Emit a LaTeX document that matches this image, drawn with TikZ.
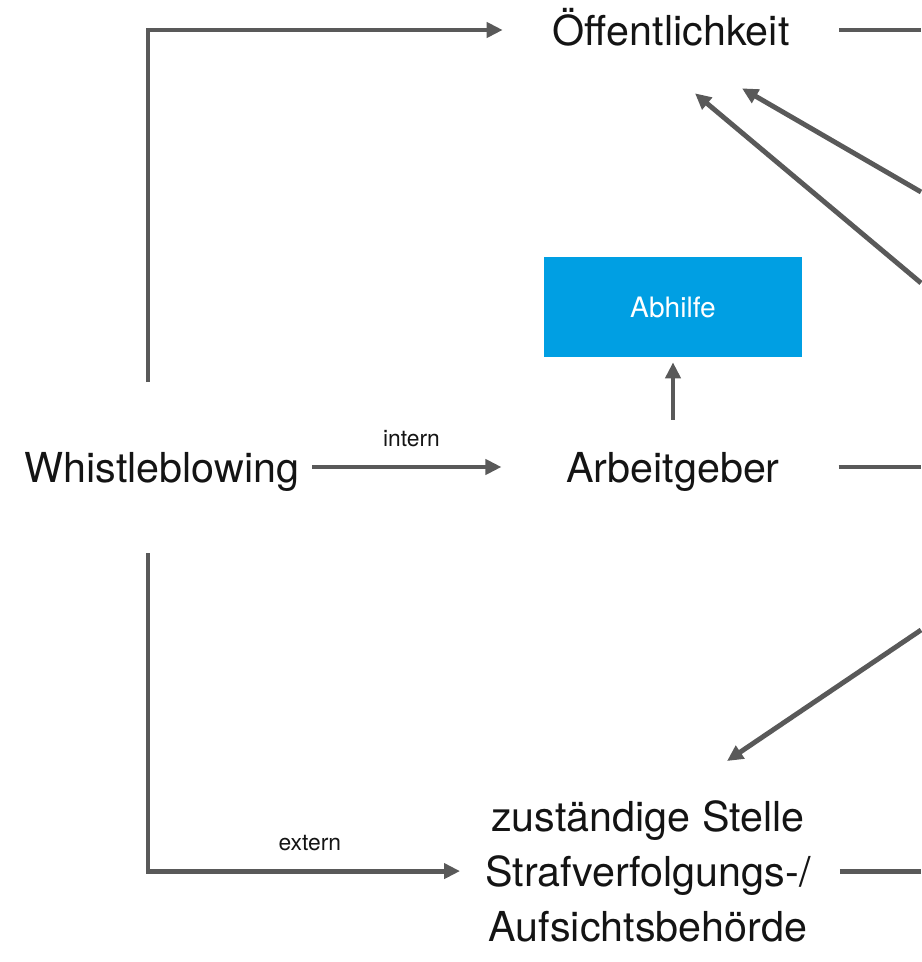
\documentclass[tikz,border=0pt]{standalone}
\usepackage{fontspec}
\setmainfont{TeX Gyre Heros}
\usetikzlibrary{arrows.meta, positioning}
\definecolor{LineGray}{RGB}{89,89,89}
\definecolor{BoxBlue}{RGB}{0,159,227}
\definecolor{InkText}{RGB}{20,20,20}

\begin{document}
\begin{tikzpicture}[
    x=0.02cm, y=-0.02cm,
    lbl/.style={
        inner sep=0pt,
        text=InkText,
        font=\fontsize{23.5}{28}\selectfont,
        text height=0.76cm,
        text depth=0.12cm
    },
    multi/.style={
        inner sep=0pt,
        text=InkText,
        align=center,
        font=\fontsize{23.5}{31.3}\selectfont
    },
    tag/.style={inner sep=0pt, text=InkText, font=\fontsize{13}{15}\selectfont},
    fixbox/.style={
        fill=BoxBlue,
        text=white,
        minimum width=5.16cm,
        minimum height=2cm,
        font=\fontsize{16}{19}\selectfont
    },
    arr/.style={-{Triangle[length=0.32cm, width=0.3cm]}, line width=2.8pt, color=LineGray},
    ln/.style={line width=2.8pt, color=LineGray}
]
\useasboundingbox (0,0) rectangle (921,962);

% NODES
\node[lbl] (oef) at (671,30) {Öffentlichkeit};
\node[lbl] (wb) at (162,467) {Whistleblowing};
\node[lbl] (arb) at (673,467) {Arbeitgeber};
\node[fixbox] (abh) at (673,307) {Abhilfe};
\node[multi, anchor=north] (beh) at (648,800)
{zuständige Stelle\\Strafverfolgungs-/\\Aufsichtsbehörde};

% FREE ENDS
\coordinate (wbtop) at (148,382);
\coordinate (wbbot) at (148,553);
\coordinate (edgeA) at (921,30);
\coordinate (edgeB) at (921,467);
\coordinate (edgeC) at (921,192);
\coordinate (edgeD) at (921,283);
\coordinate (edgeE) at (921,630);
\coordinate (edgeF) at (921,868);

% LEFT SIDE
\draw[arr, shorten >=0.99cm] (wbtop) |- (oef.west);
\draw[arr, shorten <=0.25cm, shorten >=1.29cm] (wb.east) -- (arb.west)
node[tag, pos=0.42, above=0.36cm] {intern};
\draw[arr, shorten >=0.5cm] (wbbot) |- (beh.west)
node[tag, pos=0.74, above=0.36cm] {extern};
\draw[arr, shorten <=0.5cm, shorten >=0.1cm] (arb.north) -- (abh.south);

% RIGHT SIDE
\draw[ln, shorten <=0.99cm] (oef.east) -- (oef.east -| edgeA);
\draw[ln, shorten <=1.17cm] (arb.east) -- (edgeB);
\draw[ln, shorten <=0.58cm] (beh.east) -- (beh.east -| edgeF);
\draw[arr] (edgeC) -- ([shift={(71,36)}]oef.south);
\draw[arr] (edgeD) -- ([shift={(24,41)}]oef.south);
\draw[arr] (edgeE) -- ([shift={(79,-39)}]beh.north);

\end{tikzpicture}
\end{document}
